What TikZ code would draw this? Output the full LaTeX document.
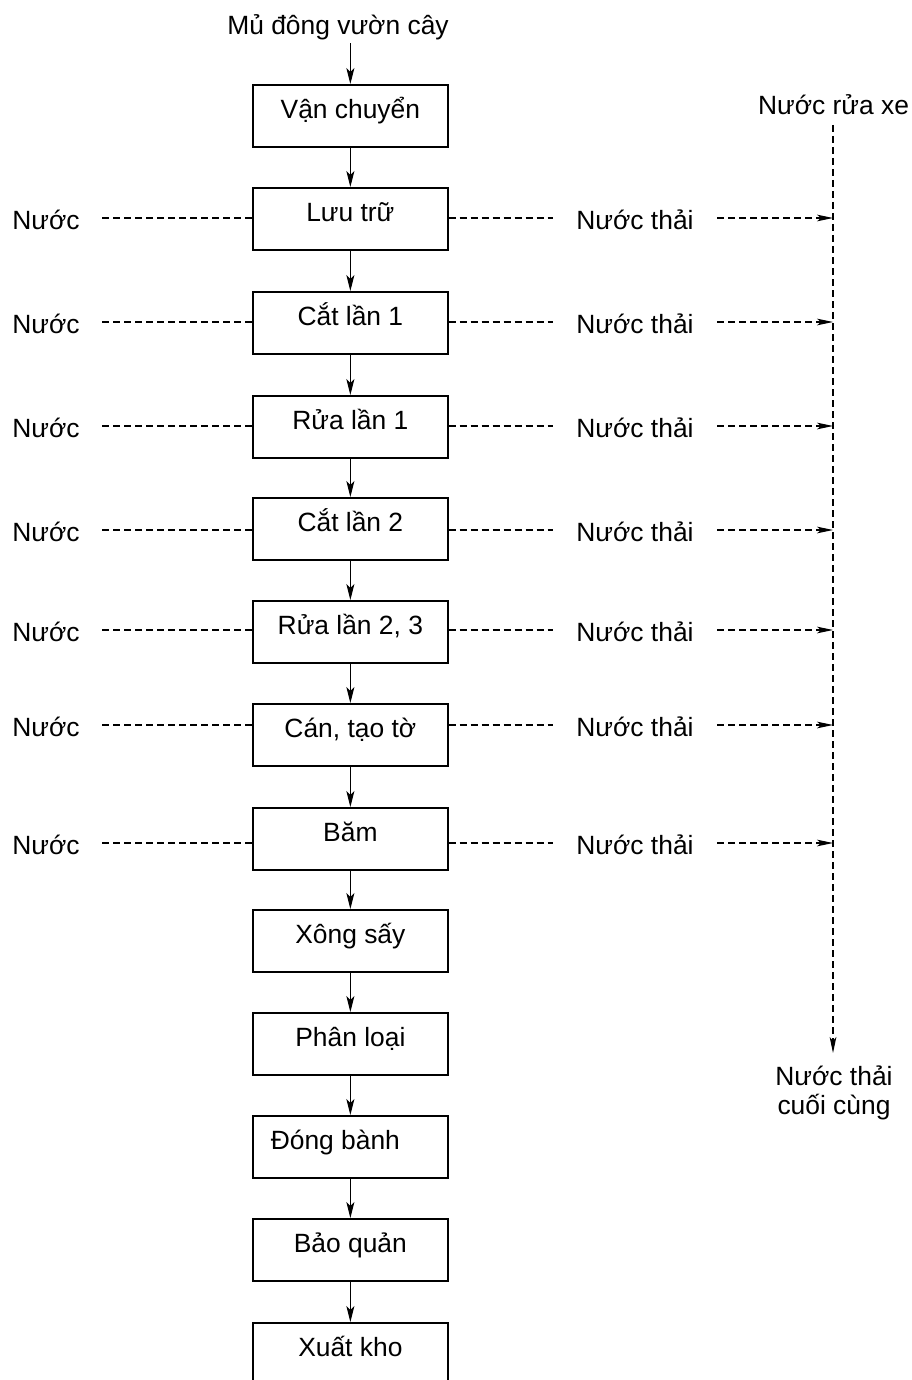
\documentclass[tikz,border=0pt]{standalone}
\usepackage{fontspec}
\setmainfont{Liberation Sans}
\usetikzlibrary{arrows.meta}
\begin{document}
\begin{tikzpicture}[x=0.75pt,y=-0.75pt,
  every node/.style={font=\fontsize{19.8}{21.75}\selectfont, inner sep=0pt},
  stage/.style={draw, line width=1.3pt, anchor=north west,
    minimum width=146.25pt, minimum height=46.5pt,
    text height=12pt, text depth=7.5pt},
  flow/.style={line width=0.8pt, -{Stealth[length=12pt,width=6pt,inset=3pt]}},
  water/.style={line width=0.8pt, dash pattern=on 5.25pt off 3pt},
  waterflow/.style={water, -{Stealth[length=12pt,width=5pt,inset=3pt]}}]
\useasboundingbox (0,0) rectangle (911,1380);
\clip (0,0) rectangle (911,1380);

% process chain
\node[stage] (b1)  at (252,84)   {Vận chuyển};
\node[stage] (b2)  at (252,187)  {Lưu trữ};
\node[stage] (b3)  at (252,291)  {Cắt lần 1};
\node[stage] (b4)  at (252,395)  {Rửa lần 1};
\node[stage] (b5)  at (252,497)  {Cắt lần 2};
\node[stage] (b6)  at (252,600)  {Rửa lần 2, 3};
\node[stage] (b7)  at (252,703)  {Cán, tạo tờ};
\node[stage] (b8)  at (252,807)  {Băm};
\node[stage] (b9)  at (252,909)  {Xông sấy};
\node[stage] (b10) at (252,1012) {Phân loại};
\node[stage] (b11) at (252,1115) {Đóng bành\hspace*{22.5pt}};
\node[stage] (b12) at (252,1218) {Bảo quản};
\node[stage] (b13) at (252,1322) {Xuất kho};

\node[anchor=base] (src) at (338,35) {Mủ đông vườn cây};
\draw[flow, shorten <=2pt] (b1.north |- src.south) -- (b1.north);
\foreach \a/\b in {b1/b2,b2/b3,b3/b4,b4/b5,b5/b6,b6/b7,b7/b8,b8/b9,b9/b10,b10/b11,b11/b12,b12/b13}
  \draw[flow] (\a.south) -- (\b.north);

% wastewater collector
\node[anchor=base] (wash) at (833.5,115) {Nước rửa xe};
\coordinate (wtop) at (833,125);
\coordinate (wend) at (833,1053);
\draw[waterflow] (wtop) -- (wend);
\node[anchor=base, align=center] (final) at (834,1114) {Nước thải\\cuối cùng};

% water in / wastewater out for each washing stage
\foreach \b/\y [count=\i] in {b2/218,b3/322,b4/426,b5/530,b6/630,b7/725,b8/843} {
  \node[anchor=base] (in\i) at (46,\y+11.5) {Nước};
  \coordinate (ls\i) at (102,\y);
  \draw[water] (ls\i) -- (\b.west |- ls\i);
  \node[anchor=base] (out\i) at (635,\y+11.5) {Nước thải};
  \coordinate (rs\i) at (553,\y);
  \coordinate (rt\i) at (717,\y);
  \draw[water] (\b.east |- rs\i) -- (rs\i);
  \draw[waterflow] (rt\i) -- (wtop |- rt\i);
}
\end{tikzpicture}
\end{document}
